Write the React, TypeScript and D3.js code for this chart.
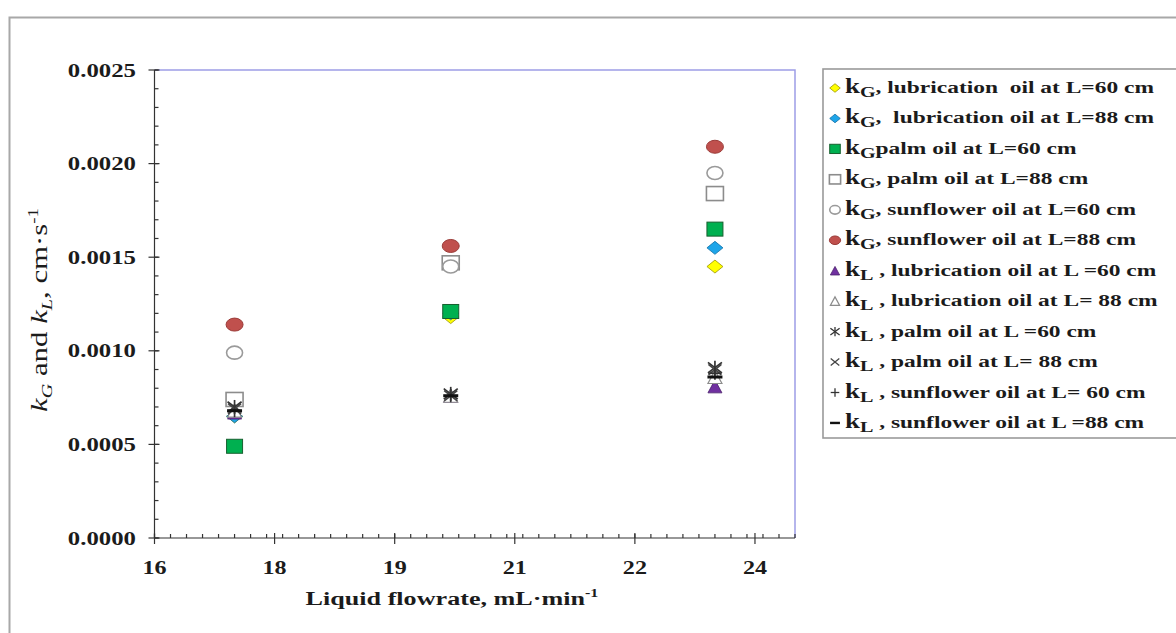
import React from 'react';
import * as d3 from 'd3';

// Liquid flowrates (mL/min) at which the coefficients were measured
const flowrates = [17, 19.7, 23];

// Gas-side coefficients kG (cm/s)
const kgLub60 = [0.00065, 0.00118, 0.00145];
const kgLub88 = [0.00065, 0.0012, 0.00155];
const kgPalm60 = [0.00049, 0.00121, 0.00165];
const kgPalm88 = [0.00074, 0.00147, 0.00184];
const kgSun60 = [0.00099, 0.00145, 0.00195];
const kgSun88 = [0.00114, 0.00156, 0.00209];

// Liquid-side coefficients kL (cm/s)
const klLub60 = [0.00067, 0.00076, 0.00081];
const klLub88 = [0.00068, 0.00076, 0.00086];
const klPalm60 = [0.0007, 0.00077, 0.00091];
const klPalm88 = [0.00069, 0.00076, 0.0009];
const klSun60 = [0.00068, 0.00076, 0.00088];
const klSun88 = [0.00068, 0.00076, 0.00086];

// Axis ticks
const xMajorTicks = [16, 17.5, 19, 20.5, 22, 23.5];
const yMajorTicks = [0, 0.0005, 0.001, 0.0015, 0.002, 0.0025];

type Shape =
  | 'diamondY' | 'diamondB' | 'squareG' | 'squareO' | 'circleO' | 'circleR'
  | 'triP' | 'triO' | 'star' | 'cross' | 'plus' | 'dash';

interface Series {
  coef: 'G' | 'L';
  text: string;
  values: number[];
  shape: Shape;
}

const series: Series[] = [
  { coef: 'G', text: ', lubrication  oil at L=60 cm', values: kgLub60, shape: 'diamondY' },
  { coef: 'G', text: ',  lubrication oil at L=88 cm', values: kgLub88, shape: 'diamondB' },
  { coef: 'G', text: 'palm oil at L=60 cm', values: kgPalm60, shape: 'squareG' },
  { coef: 'G', text: ', palm oil at L=88 cm', values: kgPalm88, shape: 'squareO' },
  { coef: 'G', text: ', sunflower oil at L=60 cm', values: kgSun60, shape: 'circleO' },
  { coef: 'G', text: ', sunflower oil at L=88 cm', values: kgSun88, shape: 'circleR' },
  { coef: 'L', text: ' , lubrication oil at L =60 cm', values: klLub60, shape: 'triP' },
  { coef: 'L', text: ' , lubrication oil at L= 88 cm', values: klLub88, shape: 'triO' },
  { coef: 'L', text: ' , palm oil at L =60 cm', values: klPalm60, shape: 'star' },
  { coef: 'L', text: ' , palm oil at L= 88 cm', values: klPalm88, shape: 'cross' },
  { coef: 'L', text: ' , sunflower oil at L= 60 cm', values: klSun60, shape: 'plus' },
  { coef: 'L', text: ' , sunflower oil at L =88 cm', values: klSun88, shape: 'dash' },
];

const W = 1176;
const H = 633;
const FONT = '"Liberation Serif", "Times New Roman", serif';
const SX = 1.34; // horizontal widening of the type
const INK = '#1b1b1b';

const plot = { left: 154.5, right: 795, top: 70, bottom: 538 };

const x = d3.scaleLinear().domain([16, 24]).range([plot.left, plot.right]);
const y = d3.scaleLinear().domain([0, 0.0025]).range([plot.bottom, plot.top]);

const xMinorTicks = d3.range(0, 41).map((i) => 16 + i * 0.2);
const yMinorTicks = d3.range(0, 26).map((i) => i * 0.0001);
const fmtX = d3.format('.0f');
const fmtY = d3.format('.4f');

function Marker({ shape, cx, cy, k = 1 }: { shape: Shape; cx: number; cy: number; k?: number }) {
  const dia = (w: number, h: number) =>
    `${cx},${cy - h / 2} ${cx + w / 2},${cy} ${cx},${cy + h / 2} ${cx - w / 2},${cy}`;
  const tri = (w: number, h: number) =>
    `${cx},${cy - h / 2} ${cx + w / 2},${cy + h / 2} ${cx - w / 2},${cy + h / 2}`;
  const lw = 1.7 * Math.max(k, 0.75);
  switch (shape) {
    case 'diamondY':
      return <polygon points={dia(16 * k, 13 * k)} fill="#ffff00" stroke="#9a9400" strokeWidth={0.8} />;
    case 'diamondB':
      return <polygon points={dia(16 * k, 13 * k)} fill="#1ea5e9" stroke="#106fa5" strokeWidth={0.8} />;
    case 'squareG':
      return (
        <rect x={cx - 8 * k} y={cy - 7 * k} width={16 * k} height={14 * k}
          fill="#00b050" stroke="#17602f" strokeWidth={1} />
      );
    case 'squareO':
      return (
        <rect x={cx - 8.5 * k} y={cy - 7 * k} width={17 * k} height={14 * k}
          fill="#fff" stroke="#8c8c8c" strokeWidth={1.6} />
      );
    case 'circleO':
      return <ellipse cx={cx} cy={cy} rx={8 * k} ry={6.5 * k} fill="#fff" stroke="#9a9a9a" strokeWidth={1.6} />;
    case 'circleR':
      return <ellipse cx={cx} cy={cy} rx={8.5 * k} ry={6.5 * k} fill="#c0504d" stroke="#9b3b38" strokeWidth={1} />;
    case 'triP':
      return <polygon points={tri(14 * k, 13 * k)} fill="#7030a0" stroke="#4a1f6b" strokeWidth={0.8} />;
    case 'triO':
      return <polygon points={tri(14 * k, 13 * k)} fill="#fff" stroke="#8c8c8c" strokeWidth={1.2} />;
    case 'star': {
      const r = 7 * k;
      return (
        <g stroke="#333" strokeWidth={lw}>
          <line x1={cx - r} y1={cy - r * 0.75} x2={cx + r} y2={cy + r * 0.75} />
          <line x1={cx - r} y1={cy + r * 0.75} x2={cx + r} y2={cy - r * 0.75} />
          <line x1={cx} y1={cy - r} x2={cx} y2={cy + r} />
        </g>
      );
    }
    case 'cross': {
      const r = 6.5 * k;
      return (
        <g stroke="#444" strokeWidth={lw}>
          <line x1={cx - r} y1={cy - r * 0.8} x2={cx + r} y2={cy + r * 0.8} />
          <line x1={cx - r} y1={cy + r * 0.8} x2={cx + r} y2={cy - r * 0.8} />
        </g>
      );
    }
    case 'plus': {
      const r = 6.5 * k;
      return (
        <g stroke="#333" strokeWidth={lw}>
          <line x1={cx - r} y1={cy} x2={cx + r} y2={cy} />
          <line x1={cx} y1={cy - r} x2={cx} y2={cy + r} />
        </g>
      );
    }
    case 'dash': {
      const r = 7.5 * k;
      return <line x1={cx - r} y1={cy} x2={cx + r} y2={cy} stroke="#111" strokeWidth={3 * Math.max(k, 0.8)} />;
    }
  }
  return null;
}

// Text widened horizontally around its anchor point
function WideText({
  x: tx, y: ty, anchor = 'start', size, weight = 'bold', children, rotate = 0,
}: {
  x: number; y: number; anchor?: 'start' | 'middle' | 'end'; size: number;
  weight?: string; children: React.ReactNode; rotate?: number;
}) {
  return (
    <g transform={`translate(${tx},${ty}) rotate(${rotate}) scale(${SX},1)`}>
      <text x={0} y={0} textAnchor={anchor} fontFamily={FONT} fontSize={size}
        fontWeight={weight} fill={INK} style={{ whiteSpace: 'pre' }}>
        {children}
      </text>
    </g>
  );
}

export default function App() {
  const legend = { left: 823, top: 69, rowY0: 88, rowStep: 30.45 };

  return (
    <svg width={W} height={H} viewBox={`0 0 ${W} ${H}`}
      style={{ position: 'fixed', left: 0, top: 0, background: '#fff', display: 'block' }}>
      <rect x={0} y={0} width={W} height={H} fill="#fff" />
      {/* outer chart frame */}
      <rect x={9.5} y={17.5} width={1200} height={700} fill="none" stroke="#a8a8a8" strokeWidth={2} />

      {/* plot frame: top and right edges */}
      <path d={`M${plot.left},${plot.top}H${plot.right}V${plot.bottom}`} fill="none" stroke="#9d9de6" strokeWidth={1.5} />

      {/* y axis */}
      <g stroke="#333" strokeWidth={1.2}>
        <line x1={plot.left} y1={plot.top} x2={plot.left} y2={plot.bottom} />
        {yMinorTicks.map((t) => (
          <line key={`ym${t}`} x1={plot.left} x2={plot.left + 4} y1={y(t)} y2={y(t)} />
        ))}
        {yMajorTicks.map((t) => (
          <line key={`yM${t}`} x1={plot.left - 6} x2={plot.left + 5} y1={y(t)} y2={y(t)} />
        ))}
      </g>
      {yMajorTicks.map((t) => (
        <WideText key={`yl${t}`} x={136} y={y(t) + 6.5} anchor="end" size={18.5}>
          {fmtY(t)}
        </WideText>
      ))}

      {/* x axis */}
      <g stroke="#333" strokeWidth={1.2}>
        <line x1={plot.left} y1={plot.bottom} x2={plot.right} y2={plot.bottom} />
        {xMinorTicks.map((t) => (
          <line key={`xm${t}`} x1={x(t)} x2={x(t)} y1={plot.bottom - 4} y2={plot.bottom} />
        ))}
        {xMajorTicks.map((t) => (
          <line key={`xM${t}`} x1={x(t)} x2={x(t)} y1={plot.bottom - 5} y2={plot.bottom + 6} />
        ))}
      </g>
      {xMajorTicks.map((t) => (
        <WideText key={`xl${t}`} x={x(t)} y={574} anchor="middle" size={18}>
          {fmtX(t)}
        </WideText>
      ))}

      {/* axis titles */}
      <WideText x={452} y={605} anchor="middle" size={19.5}>
        Liquid flowrate, mL·min
        <tspan fontSize={12} dy={-8}>-1</tspan>
      </WideText>
      <WideText x={47} y={310} anchor="middle" size={23} weight="normal" rotate={-90}>
        <tspan fontStyle="italic">k</tspan>
        <tspan fontStyle="italic" fontSize={15} dy={5}>G</tspan>
        <tspan dy={-5}> and </tspan>
        <tspan fontStyle="italic">k</tspan>
        <tspan fontStyle="italic" fontSize={15} dy={5}>L</tspan>
        <tspan dy={-5}>, cm·s</tspan>
        <tspan fontSize={14} dy={-9}>-1</tspan>
      </WideText>

      {/* data points */}
      {series.map((s, si) => (
        <g key={`s${si}`}>
          {s.values.map((v, i) => (
            <Marker key={i} shape={s.shape} cx={x(flowrates[i])} cy={y(v)} />
          ))}
        </g>
      ))}

      {/* legend */}
      <rect x={legend.left} y={legend.top} width={360} height={369} fill="#fff" stroke="#9a9a9a" strokeWidth={1.6} />
      {series.map((s, i) => {
        const cy = legend.rowY0 + i * legend.rowStep;
        return (
          <g key={`lg${i}`}>
            <Marker shape={s.shape} cx={835} cy={cy} k={0.66} />
            <WideText x={845} y={cy + 5} size={17.5}>
              <tspan fontSize={20}>k</tspan>
              <tspan fontSize={15} dy={4}>{s.coef}</tspan>
              <tspan dy={-4}>{s.text}</tspan>
            </WideText>
          </g>
        );
      })}
    </svg>
  );
}
